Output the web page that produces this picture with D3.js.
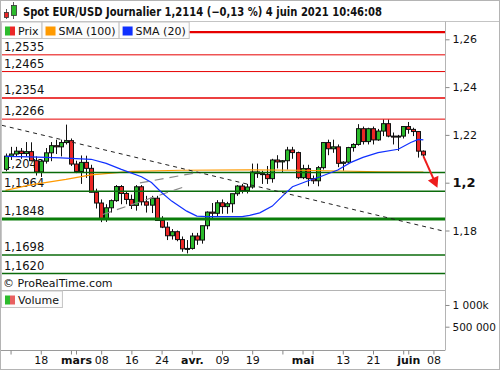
<!DOCTYPE html>
<html>
<head>
<meta charset="utf-8">
<script src="https://cdn.jsdelivr.net/npm/d3@7"></script>
<style>
body { margin: 0; background: #fff; }
svg { display: block; font-family: "DejaVu Sans", "Lucida Grande", sans-serif; }
</style>
</head>
<body>
<svg id="chart"></svg>
<script>
// trading days shown (Feb 9 -> Jun 4 2021)
let dates = [
  "2021-02-09","2021-02-10","2021-02-11","2021-02-12","2021-02-15","2021-02-16","2021-02-17","2021-02-18","2021-02-19",
  "2021-02-22","2021-02-23","2021-02-24","2021-02-25","2021-02-26",
  "2021-03-01","2021-03-02","2021-03-03","2021-03-04","2021-03-05","2021-03-08","2021-03-09","2021-03-10","2021-03-11","2021-03-12",
  "2021-03-15","2021-03-16","2021-03-17","2021-03-18","2021-03-19","2021-03-22","2021-03-23","2021-03-24","2021-03-25","2021-03-26",
  "2021-03-29","2021-03-30","2021-03-31","2021-04-01","2021-04-02","2021-04-05","2021-04-06","2021-04-07","2021-04-08","2021-04-09",
  "2021-04-12","2021-04-13","2021-04-14","2021-04-15","2021-04-16","2021-04-19","2021-04-20","2021-04-21","2021-04-22","2021-04-23",
  "2021-04-26","2021-04-27","2021-04-28","2021-04-29","2021-04-30","2021-05-03","2021-05-04","2021-05-05","2021-05-06","2021-05-07",
  "2021-05-10","2021-05-11","2021-05-12","2021-05-13","2021-05-14","2021-05-17","2021-05-18","2021-05-19","2021-05-20","2021-05-21",
  "2021-05-24","2021-05-25","2021-05-26","2021-05-27","2021-05-28","2021-05-31","2021-06-01","2021-06-02","2021-06-03","2021-06-04"
]
let futureDates = ["2021-06-07","2021-06-08","2021-06-09"]

let open = [1.2056,1.2111,1.2120,1.2132,1.2122,1.2130,1.2092,1.2045,1.2090,1.2125,1.2155,1.2150,1.2168,1.2176,
  1.2078,1.2047,1.2085,1.2060,1.1960,1.1915,1.1847,1.1895,1.1925,1.1984,1.1955,1.1930,1.1905,1.1983,1.1920,1.1906,
  1.1935,1.1842,1.1814,1.1778,1.1795,1.1762,1.1723,1.1725,1.1777,1.1760,1.1820,1.1877,1.1872,1.1916,1.1900,1.1912,
  1.1954,1.1986,1.1967,1.1982,1.2045,1.2038,1.2035,1.2017,1.2095,1.2087,1.2092,1.2137,1.2126,1.2021,1.2059,1.2017,
  1.2008,1.2063,1.2168,1.2142,1.2150,1.2081,1.2086,1.2147,1.2160,1.2226,1.2172,1.2226,1.2179,1.2216,1.2247,1.2195,
  1.2193,1.2195,1.2235,1.2223,1.2214,1.2132]
let high = [1.2122,1.2150,1.2150,1.2145,1.2170,1.2169,1.2110,1.2095,1.2145,1.2170,1.2180,1.2180,1.2243,1.2185,
  1.2092,1.2114,1.2113,1.2075,1.1975,1.1930,1.1910,1.1930,1.1990,1.1990,1.1965,1.1950,1.1990,1.1990,1.1945,1.1945,
  1.1945,1.1860,1.1835,1.1806,1.1800,1.1775,1.1760,1.1790,1.1790,1.1820,1.1880,1.1915,1.1927,1.1930,1.1920,1.1950,
  1.1990,1.1995,1.1995,1.2080,1.2080,1.2050,1.2070,1.2100,1.2115,1.2095,1.2150,1.2150,1.2130,1.2075,1.2075,1.2030,
  1.2070,1.2170,1.2180,1.2180,1.2160,1.2090,1.2150,1.2165,1.2245,1.2235,1.2230,1.2235,1.2225,1.2265,1.2265,1.2210,
  1.2200,1.2230,1.2254,1.2230,1.2215,1.2135]
let low = [1.2048,1.2095,1.2110,1.2100,1.2110,1.2090,1.2030,1.2024,1.2080,1.2090,1.2120,1.2110,1.2160,1.2070,
  1.2040,1.1995,1.2020,1.1960,1.1892,1.1835,1.1836,1.1875,1.1920,1.1910,1.1910,1.1890,1.1883,1.1905,1.1875,1.1873,
  1.1840,1.1810,1.1760,1.1762,1.1755,1.1711,1.1704,1.1720,1.1740,1.1745,1.1805,1.1850,1.1860,1.1870,1.1870,1.1875,
  1.1945,1.1955,1.1955,1.1975,1.2020,1.1995,1.1995,1.2000,1.2060,1.2045,1.2055,1.2100,1.2015,1.2015,1.1985,1.1995,
  1.1985,1.2055,1.2115,1.2125,1.2065,1.2050,1.2080,1.2130,1.2155,1.2160,1.2160,1.2160,1.2175,1.2195,1.2190,1.2160,
  1.2133,1.2185,1.2205,1.2195,1.2105,1.2105]
let close = [1.2111,1.2120,1.2132,1.2122,1.2130,1.2092,1.2045,1.2090,1.2125,1.2155,1.2150,1.2168,1.2176,1.2078,
  1.2047,1.2085,1.2060,1.1960,1.1915,1.1847,1.1895,1.1925,1.1984,1.1955,1.1930,1.1905,1.1983,1.1920,1.1906,1.1935,
  1.1842,1.1814,1.1778,1.1795,1.1762,1.1723,1.1725,1.1777,1.1760,1.1820,1.1877,1.1872,1.1916,1.1900,1.1912,1.1954,
  1.1986,1.1967,1.1982,1.2045,1.2038,1.2035,1.2017,1.2095,1.2087,1.2092,1.2137,1.2126,1.2021,1.2059,1.2017,1.2008,
  1.2063,1.2168,1.2142,1.2150,1.2081,1.2086,1.2147,1.2160,1.2226,1.2172,1.2226,1.2179,1.2216,1.2247,1.2195,1.2193,
  1.2195,1.2235,1.2223,1.2214,1.2132,1.2116]

// moving averages (day index, value)
let sma20Days = [0,5,11,17,20,23,27,29,31,33,36,38,40,47,48.5,50.5,53,55,57,60,62.5,66,68.5,71,74,78,80.5,82,83]
let sma20 = [1.2110,1.2108,1.2104,1.2098,1.2081,1.2056,1.2025,1.2001,1.1959,1.1923,1.1881,1.1860,1.1858,1.1858,1.1863,
  1.1874,1.1902,1.1944,1.1983,1.2007,1.2025,1.2053,1.2084,1.2106,1.2126,1.2140,1.2168,1.2181,1.2179]
let sma100Days = [0,5,12,17,25,35,48.5,58.5,66.5,74.5,83]
let sma100 = [1.1968,1.1991,1.2014,1.2033,1.2047,1.2052,1.2054,1.2052,1.2049,1.2045,1.2044]

// horizontal levels
let levelValues = [1.2630,1.2535,1.2465,1.2354,1.2266,1.2043,1.1964,1.1848,1.1698,1.1620]
let levelLabels = ["","1,2535","1,2465","1,2354","1,2266","1,2043","1,1964","1,1848","1,1698","1,1620"]
let levelColors = ["#e60000","#e60000","#e60000","#e60000","#e60000","#0b6b0b","#0b6b0b","#0a7d0a","#0b6b0b","#0b6b0b"]
let levelWidths = [2.2,1,1,1.5,1,1.5,1.5,3,1.5,1.5]

// trend lines (day index, value)
let trendDays = [-0.7, 87.3]
let trendValues = [1.2240, 1.1796]
let channelA = [[19.3, 1.1867], [35.1, 1.1980]]
let channelB = [[26.7, 1.1999], [38.2, 1.2043]]
let arrowDays = [83, 85.8]
let arrowValues = [1.2111, 1.1979]

let priceTicks = [1.18, 1.2, 1.22, 1.24, 1.26]
let volumeTicks = [500000, 1000000]
let volumeLabels = ["500 000", "1 000k"]

let tickDates = ["2021-02-10","2021-02-18","2021-02-26","2021-03-01","2021-03-08","2021-03-16","2021-03-24","2021-04-01",
  "2021-04-09","2021-04-19","2021-04-27","2021-05-03","2021-05-05","2021-05-13","2021-05-21","2021-05-31","2021-06-01","2021-06-08"]
let tickLabels = ["","18","","mars","08","16","24","avr.","09","19","","mai","","13","21","","juin","08"]
let monthLabels = ["mars","avr.","mai","juin"]

let width = 500
let height = 370
let plotLeft = 2
let plotRight = 445
let priceBottom = 290
let volBottom = 350

let green = "#2bbb2b"
let red = "#ec2626"

let svg = d3.select("#chart").attr("width", width).attr("height", height)

let xScale = d3.scaleLinear().domain([-0.7, 87.3]).range([plotLeft, plotRight])
let yScale = d3.scaleLinear().domain([1.18, 1.26]).range([230.5, 39.3])
let volScale = d3.scaleLinear().domain([0, 1345000]).range([348.4, 290])

let line = d3.line().x((d) => xScale(d[0])).y((d) => yScale(d[1]))

let drawFrame = () => {
    svg.append("rect").attr("width", width).attr("height", height).attr("fill", "#fff")
    svg.append("line").attr("x1", 0).attr("x2", width).attr("y1", 21.5).attr("y2", 21.5).attr("stroke", "#c4c4c4")
    svg.append("line").attr("x1", 0).attr("x2", plotRight).attr("y1", priceBottom + 0.5).attr("y2", priceBottom + 0.5).attr("stroke", "#b4b4b4")
    svg.append("line").attr("x1", 0).attr("x2", plotRight).attr("y1", volBottom + 0.5).attr("y2", volBottom + 0.5).attr("stroke", "#9a9a9a")
    svg.append("line").attr("x1", plotRight + 0.5).attr("x2", plotRight + 0.5).attr("y1", 21.5).attr("y2", volBottom + 0.5).attr("stroke", "#b4b4b4")
    svg.append("line").attr("x1", 1).attr("x2", 1).attr("y1", 22).attr("y2", priceBottom).attr("stroke", "#c8c8c8").attr("stroke-width", 2)
    svg.append("rect").attr("x", 0.5).attr("y", 0.5).attr("width", width - 1).attr("height", height - 1)
       .attr("fill", "none").attr("stroke", "#b4b4b4")
}

let drawTitle = () => {
    // little candlestick icon
    let icon = svg.append("g").attr("stroke", "#333").attr("stroke-width", 0.8)
    icon.append("line").attr("x1", 6.5).attr("x2", 6.5).attr("y1", 9).attr("y2", 19)
    icon.append("rect").attr("x", 4.5).attr("y", 12.5).attr("width", 4).attr("height", 5).attr("fill", red)
    icon.append("line").attr("x1", 13.5).attr("x2", 13.5).attr("y1", 2).attr("y2", 19)
    icon.append("rect").attr("x", 11.5).attr("y", 5.5).attr("width", 5).attr("height", 10).attr("fill", green)

    let t = svg.append("text")
       .attr("x", 23)
       .attr("y", 16)
       .attr("font-size", 12)
       .attr("font-weight", "bold")
       .attr("fill", "#111")
       .text("Spot EUR/USD Journalier 1,2114 (\u22120,13 %) 4 juin 2021 10:46:08")
    if (t.node().getComputedTextLength() > 359) {
        t.attr("textLength", 359).attr("lengthAdjust", "spacingAndGlyphs")
    }
}

let drawLevels = () => {
    let g = svg.append("g")
    g.selectAll("text")
     .data(levelValues)
     .enter()
     .append("text")
     .attr("x", 4)
     .attr("y", (d) => yScale(d) - 4)
     .attr("font-size", 11.5)
     .attr("fill", "#111")
     .text((d, i) => levelLabels[i])
}

let drawLevelLines = () => {
    svg.append("g")
       .selectAll("line")
       .data(levelValues)
       .enter()
       .append("line")
       .attr("x1", plotLeft)
       .attr("x2", plotRight)
       .attr("y1", (d) => yScale(d))
       .attr("y2", (d) => yScale(d))
       .attr("stroke", (d, i) => levelColors[i])
       .attr("stroke-width", (d, i) => levelWidths[i])
}

let drawCandles = () => {
    let g = svg.append("g")
    let c = g.selectAll("g").data(dates).enter().append("g")
    c.append("line")
     .attr("x1", (d, i) => Math.round(xScale(i)) + 0.5)
     .attr("x2", (d, i) => Math.round(xScale(i)) + 0.5)
     .attr("y1", (d, i) => yScale(high[i]))
     .attr("y2", (d, i) => yScale(low[i]))
     .attr("stroke", "#111")
     .attr("stroke-width", 1)
    c.append("rect")
     .attr("x", (d, i) => Math.round(xScale(i)) - 1.5)
     .attr("width", 4)
     .attr("y", (d, i) => yScale(Math.max(open[i], close[i])))
     .attr("height", (d, i) => Math.max(1, Math.abs(yScale(open[i]) - yScale(close[i]))))
     .attr("fill", (d, i) => close[i] >= open[i] ? green : red)
     .attr("stroke", "#111")
     .attr("stroke-width", 1)
}

let drawSma100 = () => {
    svg.append("path")
       .datum(sma100Days.map((d, i) => [d, sma100[i]]))
       .attr("d", line)
       .attr("fill", "none").attr("stroke", "#ff9a00").attr("stroke-width", 1.2)
}

let drawLines = () => {
    svg.append("path")
       .datum(channelA)
       .attr("d", line)
       .attr("fill", "none").attr("stroke", "#8a8a8a").attr("stroke-width", 1.2).attr("stroke-dasharray", "9,6")
    svg.append("path")
       .datum(channelB)
       .attr("d", line)
       .attr("fill", "none").attr("stroke", "#8a8a8a").attr("stroke-width", 1.2).attr("stroke-dasharray", "9,6")

    svg.append("path")
       .datum(sma20Days.map((d, i) => [d, sma20[i]]))
       .attr("d", line)
       .attr("fill", "none").attr("stroke", "#1030ff").attr("stroke-width", 1.2)

    svg.append("path")
       .datum(trendDays.map((d, i) => [d, trendValues[i]]))
       .attr("d", line)
       .attr("fill", "none").attr("stroke", "#222").attr("stroke-width", 1).attr("stroke-dasharray", "4,4")

    // red arrow
    let x1 = xScale(arrowDays[0]), y1 = yScale(arrowValues[0])
    let x2 = xScale(arrowDays[1]), y2 = yScale(arrowValues[1])
    let ang = Math.atan2(y2 - y1, x2 - x1)
    let len = 12, half = 0.5
    svg.append("line")
       .attr("x1", x1).attr("y1", y1)
       .attr("x2", x2 - Math.cos(ang) * 8).attr("y2", y2 - Math.sin(ang) * 8)
       .attr("stroke", "#ee1c1c").attr("stroke-width", 2)
    svg.append("path")
       .attr("d", "M" + x2 + "," + y2 +
            "L" + (x2 - len * Math.cos(ang - half)) + "," + (y2 - len * Math.sin(ang - half)) +
            "L" + (x2 - len * Math.cos(ang + half)) + "," + (y2 - len * Math.sin(ang + half)) + "Z")
       .attr("fill", "#ee1c1c")
}

let drawLegend = (items, top) => {
    let xPos = 1.5
    items.forEach((item) => {
        let g = svg.append("g")
        let tmp = g.append("text").attr("font-size", 11).text(item.label)
        let w = tmp.node().getComputedTextLength() + 20
        tmp.remove()
        g.append("rect").attr("x", xPos).attr("y", top).attr("width", w).attr("height", 16.5)
         .attr("fill", "#fcfcfc").attr("stroke", "#c4c4c4")
        if (item.colors.length == 2) {
            g.append("rect").attr("x", xPos + 3.5).attr("y", top + 4.5).attr("width", 5).attr("height", 9).attr("fill", item.colors[0])
            g.append("rect").attr("x", xPos + 8.5).attr("y", top + 4.5).attr("width", 5).attr("height", 9).attr("fill", item.colors[1])
        } else {
            g.append("rect").attr("x", xPos + 3.5).attr("y", top + 4.5).attr("width", 10).attr("height", 9).attr("fill", item.colors[0])
        }
        g.append("text").attr("x", xPos + 16.5).attr("y", top + 12.8).attr("font-size", 11).attr("fill", "#111").text(item.label)
        xPos += w
    })
}

let drawAxes = () => {
    let fmt = (d) => String(+d.toFixed(2)).replace(".", ",")
    let yAxis = d3.axisRight(yScale).tickValues(priceTicks).tickSize(4).tickPadding(3).tickFormat(fmt)
    let ya = svg.append("g")
       .attr("transform", "translate(" + (plotRight + 0.5) + ",0)")
       .call(yAxis)
    ya.select(".domain").remove()
    ya.selectAll("line").attr("stroke", "#888")
    ya.selectAll("text").attr("font-size", 11).attr("font-family", "DejaVu Sans").attr("fill", "#111")
      .filter((d) => d == 1.2).attr("font-weight", "bold").attr("font-size", 13)

    let vAxis = d3.axisRight(volScale).tickValues(volumeTicks).tickSize(4).tickPadding(3)
       .tickFormat((d, i) => volumeLabels[i])
    let va = svg.append("g")
       .attr("transform", "translate(" + (plotRight + 0.5) + ",0)")
       .call(vAxis)
    va.select(".domain").remove()
    va.selectAll("line").attr("stroke", "#888")
    va.selectAll("text").attr("font-size", 10.5).attr("font-family", "DejaVu Sans").attr("fill", "#111")

    let axisDates = dates.concat(futureDates)
    let tickIdx = tickDates.map((d) => axisDates.indexOf(d))
    let xAxis = d3.axisBottom(xScale).tickValues(tickIdx).tickSize(4).tickPadding(2)
       .tickFormat((d, i) => tickLabels[i])
    let xa = svg.append("g")
       .attr("transform", "translate(0," + (volBottom + 0.5) + ")")
       .call(xAxis)
    xa.select(".domain").remove()
    xa.selectAll("line").attr("stroke", "#888")
    xa.selectAll("text").attr("font-size", 11).attr("font-family", "DejaVu Sans").attr("fill", "#111")
      .filter((d, i) => monthLabels.includes(tickLabels[i])).attr("font-weight", "bold")
}

drawFrame()
drawTitle()
drawLevels()
drawCandles()
drawSma100()
drawLevelLines()
drawLines()
drawLegend([
    { label: "Prix", colors: [green, red] },
    { label: "SMA (100)", colors: ["#ff9a00"] },
    { label: "SMA (20)", colors: ["#1030ff"] }
], 22)
drawLegend([{ label: "Volume", colors: [green, "#e86060"] }], 291)

svg.append("text").attr("x", 3).attr("y", 287).attr("font-size", 11).attr("fill", "#111").text("\u00a9 ProRealTime.com")
drawAxes()
</script>
</body>
</html>
